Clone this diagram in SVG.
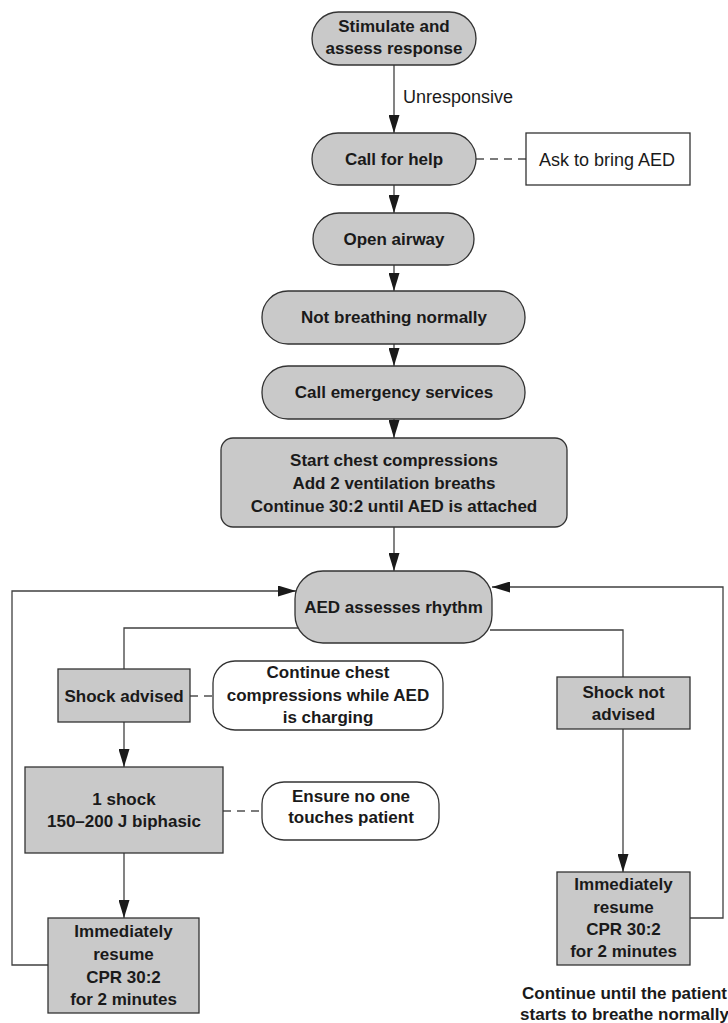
<svg xmlns="http://www.w3.org/2000/svg" width="728" height="1023" viewBox="0 0 728 1023">
<defs>
<style>
.n{fill:#c9c9c9;stroke:#333333;stroke-width:1.3}
.w{fill:#ffffff;stroke:#333333;stroke-width:1.3}
.t{font-family:"Liberation Sans",Arial,Helvetica,sans-serif;font-size:17px;font-weight:bold;fill:#1a1a1a;text-anchor:middle}
.r{font-family:"Liberation Sans",Arial,Helvetica,sans-serif;font-size:18px;fill:#1a1a1a}
.c{fill:none;stroke:#404040;stroke-width:1.3}
.d{fill:none;stroke:#505050;stroke-width:1.3;stroke-dasharray:8 6}
</style>
<marker id="ah" markerUnits="userSpaceOnUse" markerWidth="18" markerHeight="11" refX="18" refY="5.5" orient="auto">
<path d="M0,0 L18,5.5 L0,11 z" fill="#1a1a1a"/>
</marker>
</defs>
<rect width="728" height="1023" fill="#ffffff"/>
<g id="connectors">
<line class="c" x1="394" y1="65" x2="394" y2="133" marker-end="url(#ah)"/>
<line class="c" x1="394" y1="185" x2="394" y2="213" marker-end="url(#ah)"/>
<line class="c" x1="394" y1="265" x2="394" y2="291" marker-end="url(#ah)"/>
<line class="c" x1="394" y1="344" x2="394" y2="366" marker-end="url(#ah)"/>
<line class="c" x1="394" y1="419" x2="394" y2="438" marker-end="url(#ah)"/>
<line class="c" x1="394" y1="527" x2="394" y2="571" marker-end="url(#ah)"/>
<line class="d" x1="476" y1="159" x2="526" y2="159"/>
<polyline class="c" points="53,965 12,965 12,591 296,591" marker-end="url(#ah)"/>
<polyline class="c" points="298,628 124,628 124,669"/>
<line class="d" x1="190" y1="696" x2="213" y2="696"/>
<line class="c" x1="124" y1="722" x2="124" y2="767" marker-end="url(#ah)"/>
<line class="d" x1="223" y1="811" x2="262" y2="811"/>
<line class="c" x1="124" y1="853" x2="124" y2="918" marker-end="url(#ah)"/>
<polyline class="c" points="490,630 623,630 623,677"/>
<line class="c" x1="623" y1="729" x2="623" y2="872" marker-end="url(#ah)"/>
<polyline class="c" points="690,918 723,918 723,587 492,587" marker-end="url(#ah)"/>
<text class="r" x="403" y="103">Unresponsive</text>
</g>
<g id="stimulate">
<rect class="n" x="312" y="12" width="164" height="53" rx="26.5"/>
<text class="t" x="394" y="32">Stimulate and</text>
<text class="t" x="394" y="54">assess response</text>
</g>
<g id="call-help">
<rect class="n" x="312" y="133" width="164" height="52" rx="26"/>
<text class="t" x="394" y="165">Call for help</text>
</g>
<g id="ask-aed">
<rect class="w" x="526" y="133" width="164" height="52"/>
<text class="r" x="607" y="166" text-anchor="middle">Ask to bring AED</text>
</g>
<g id="open-airway">
<rect class="n" x="313" y="213" width="161" height="52" rx="26"/>
<text class="t" x="394" y="245">Open airway</text>
</g>
<g id="not-breathing">
<rect class="n" x="262" y="291" width="263" height="53" rx="26"/>
<text class="t" x="394" y="323">Not breathing normally</text>
</g>
<g id="call-emergency">
<rect class="n" x="262" y="366" width="263" height="53" rx="26"/>
<text class="t" x="394" y="398">Call emergency services</text>
</g>
<g id="start-cpr">
<rect class="n" x="221" y="438" width="346" height="89" rx="12"/>
<text class="t" x="394" y="466">Start chest compressions</text>
<text class="t" x="394" y="489">Add 2 ventilation breaths</text>
<text class="t" x="394" y="512">Continue 30:2 until AED is attached</text>
</g>
<g id="aed-assesses">
<rect class="n" x="295" y="571" width="197" height="72" rx="28"/>
<text class="t" x="393.5" y="613">AED assesses rhythm</text>
</g>
<g id="shock-advised">
<rect class="n" x="58" y="669" width="132" height="53"/>
<text class="t" x="124" y="702">Shock advised</text>
</g>
<g id="continue-charging">
<rect class="w" x="213" y="661" width="230" height="69" rx="22"/>
<text class="t" x="328" y="678">Continue chest</text>
<text class="t" x="328" y="701">compressions while AED</text>
<text class="t" x="328" y="723">is charging</text>
</g>
<g id="one-shock">
<rect class="n" x="25" y="767" width="198" height="86"/>
<text class="t" x="124" y="805">1 shock</text>
<text class="t" x="124" y="827">150–200 J biphasic</text>
</g>
<g id="ensure-no-one">
<rect class="w" x="262" y="782" width="177" height="58" rx="22"/>
<text class="t" x="351" y="802">Ensure no one</text>
<text class="t" x="351" y="823">touches patient</text>
</g>
<g id="resume-left">
<rect class="n" x="48" y="918" width="151" height="95"/>
<text class="t" x="123.5" y="937">Immediately</text>
<text class="t" x="123.5" y="960">resume</text>
<text class="t" x="123.5" y="983">CPR 30:2</text>
<text class="t" x="123.5" y="1005">for 2 minutes</text>
</g>
<g id="shock-not-advised">
<rect class="n" x="557" y="677" width="133" height="52"/>
<text class="t" x="623.5" y="698">Shock not</text>
<text class="t" x="623.5" y="720">advised</text>
</g>
<g id="resume-right">
<rect class="n" x="557" y="872" width="133" height="93"/>
<text class="t" x="623.5" y="890">Immediately</text>
<text class="t" x="623.5" y="913">resume</text>
<text class="t" x="623.5" y="935">CPR 30:2</text>
<text class="t" x="623.5" y="957">for 2 minutes</text>
</g>
<g id="continue-note">
<text class="t" x="624.5" y="999">Continue until the patient</text>
<text class="t" x="624.5" y="1020">starts to breathe normally</text>
</g>
</svg>
